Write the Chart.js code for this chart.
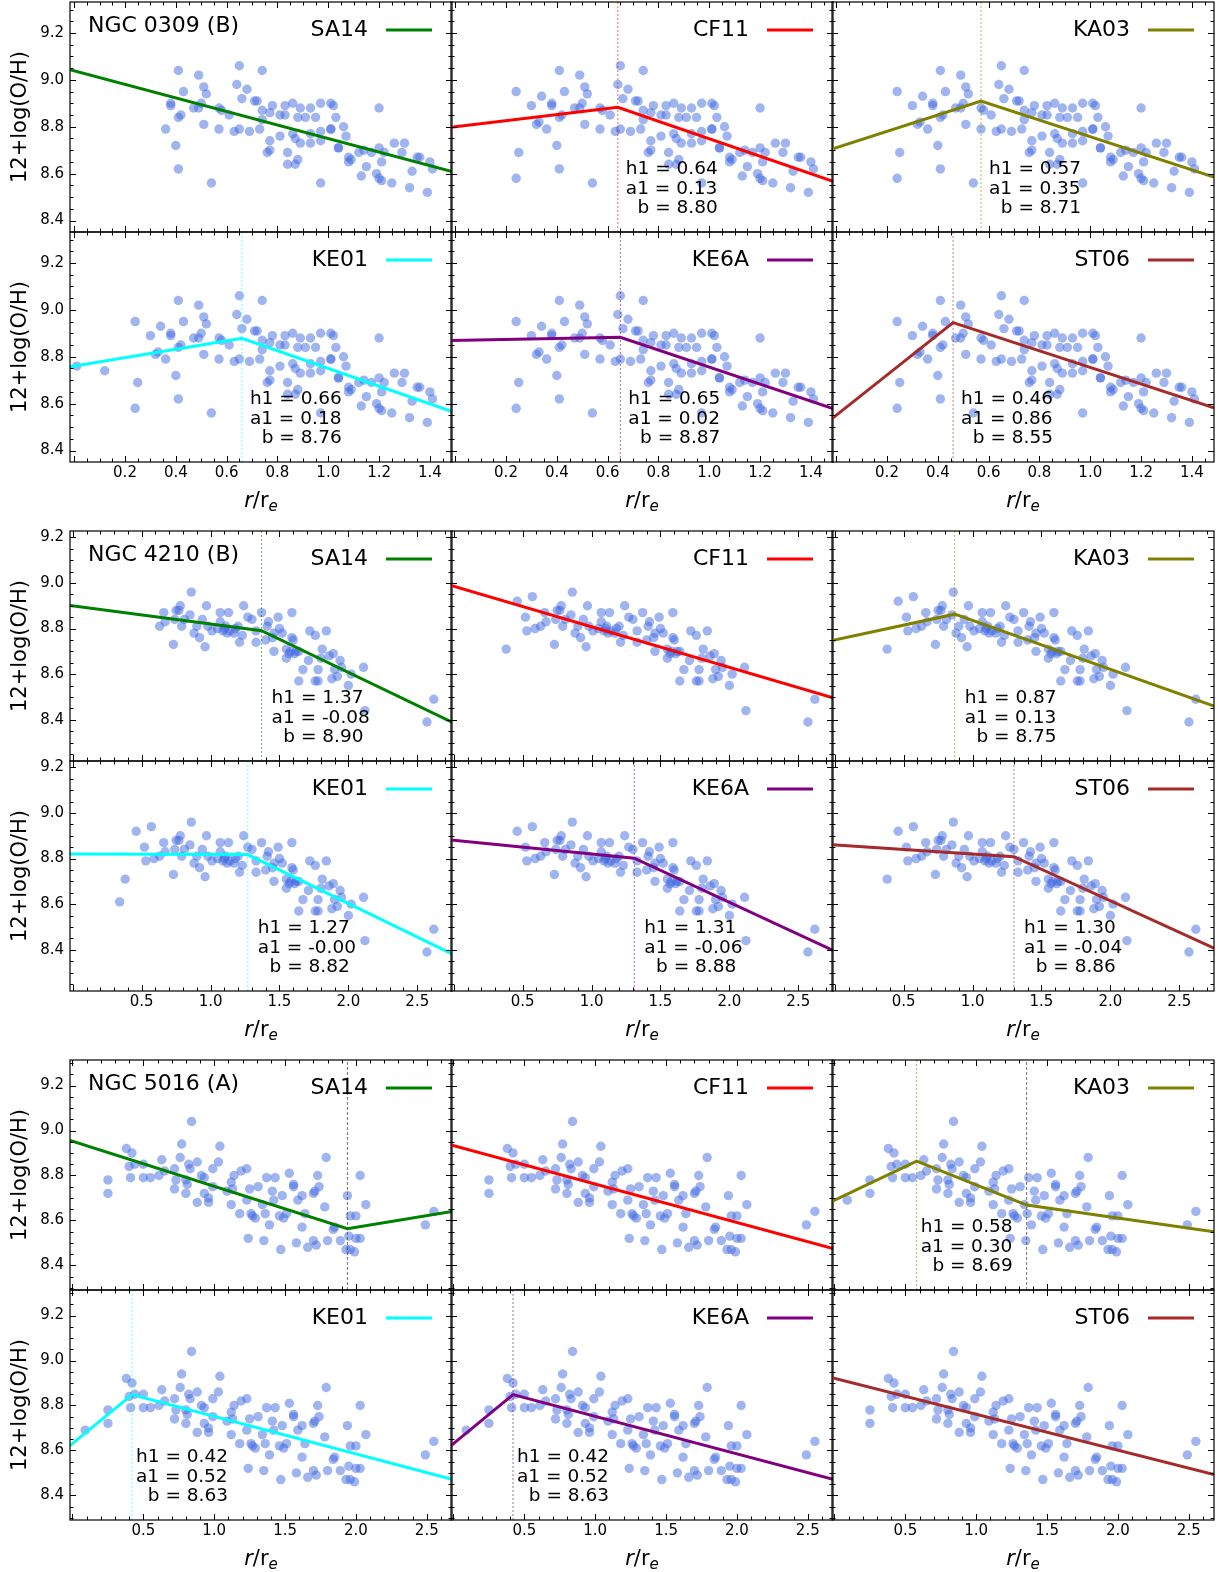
<!DOCTYPE html>
<html>
<head>
<meta charset="utf-8">
<script src="https://cdn.jsdelivr.net/npm/chart.js@4.4.1/dist/chart.umd.min.js"></script>
<style>
  body { margin: 0; background: #fff; width: 1218px; height: 1572px; position: relative; overflow: hidden; }
  canvas { position: absolute; }
</style>
</head>
<body>
<script>
// calibrations, one panel each (2 rows x 3 columns per galaxy)
const calibrations = ['SA14', 'CF11', 'KA03', 'KE01', 'KE6A', 'ST06'];
const lineColors = ['#008000', '#ff0000', '#808000', '#00ffff', '#800080', '#a52a2a'];
const galaxyNames = ['NGC 0309 (B)', 'NGC 4210 (B)', 'NGC 5016 (A)'];

// tick labels
const yTicks = [8.4, 8.6, 8.8, 9.0, 9.2];
const xTicksNarrow = [0, 0.2, 0.4, 0.6, 0.8, 1.0, 1.2, 1.4];
const xTicksWide = [0, 0.5, 1.0, 1.5, 2.0, 2.5];

// ---- NGC 0309 ----
const r0309 = [0.01, 0.12, 0.24, 0.25, 0.24, 0.30, 0.34, 0.32, 0.33, 0.36, 0.38, 0.38, 0.40, 0.41, 0.41, 0.42, 0.43, 0.41,
  0.47, 0.49, 0.49, 0.50, 0.51, 0.52, 0.51, 0.54, 0.57, 0.57, 0.58, 0.61, 0.63, 0.65, 0.64, 0.65, 0.66, 0.68, 0.69,
  0.71, 0.72, 0.74, 0.73, 0.74, 0.74, 0.78, 0.77, 0.77, 0.76, 0.77, 0.81, 0.81, 0.83, 0.83, 0.84, 0.84, 0.86, 0.86,
  0.87, 0.88, 0.88, 0.89, 0.89, 0.87, 0.91, 0.93, 0.93, 0.93, 0.95, 0.97, 0.97, 0.97, 0.97, 1.01, 1.01, 1.01, 1.02,
  1.03, 1.04, 1.04, 1.06, 1.07, 1.08, 1.09, 1.08, 1.12, 1.14, 1.13, 1.15, 1.17, 1.19, 1.20, 1.20, 1.20, 1.21, 1.21,
  1.22, 1.25, 1.26, 1.29, 1.30, 1.33, 1.32, 1.35, 1.36, 1.39, 1.40, 1.41];
const oh0309 = [8.76, 8.74, 8.95, 8.69, 8.58, 8.89, 8.93, 8.81, 8.82, 8.79, 8.89, 8.90, 8.72, 9.04, 8.84, 8.85, 8.95, 8.62,
  8.88, 9.02, 8.88, 8.90, 8.97, 8.94, 8.81, 8.56, 8.79, 8.88, 8.87, 8.85, 8.78, 8.79, 8.98, 9.06, 8.92, 8.96, 8.78,
  8.91, 8.91, 9.04, 8.79, 8.87, 8.83, 8.89, 8.86, 8.74, 8.69, 8.70, 8.76, 8.85, 8.85, 8.89, 8.69, 8.64, 8.90, 8.77,
  8.64, 8.84, 8.66, 8.88, 8.73, 8.75, 8.84, 8.88, 8.73, 8.77, 8.84, 8.90, 8.78, 8.74, 8.56, 8.79, 8.79, 8.90, 8.89,
  8.84, 8.71, 8.71, 8.80, 8.76, 8.67, 8.66, 8.65, 8.69, 8.70, 8.59, 8.63, 8.69, 8.60, 8.71, 8.88, 8.58, 8.57, 8.65,
  8.69, 8.56, 8.73, 8.69, 8.73, 8.61, 8.54, 8.67, 8.67, 8.52, 8.65, 8.62];
const h1_0309 = [null, 0.64, 0.57, 0.66, 0.65, 0.46];
const a1_0309 = [-0.289, 0.13, 0.35, 0.18, 0.02, 0.86];
const b_0309 = [9.039, 8.80, 8.71, 8.76, 8.87, 8.55];
const a2_0309 = [null, -0.373, -0.354, -0.378, -0.363, -0.354];
const h2_0309 = [null, null, null, null, null, null];
const a3_0309 = [null, null, null, null, null, null];
const rMin0309 = [0.36, 0.2, 0.2, 0, 0.2, 0.2];
const noted0309 = [false, true, true, true, true, true];

// ---- NGC 4210 ----
const r4210 = [0.34, 0.38, 0.46, 0.52, 0.53, 0.57, 0.59, 0.63, 0.66, 0.67, 0.73, 0.74, 0.75, 0.77, 0.78, 0.79, 0.81, 0.85,
  0.86, 0.88, 0.90, 0.92, 0.94, 0.96, 0.97, 0.98, 1.01, 1.05, 1.07, 1.07, 1.09, 1.10, 1.13, 1.11, 1.12, 1.14, 1.17,
  1.18, 1.20, 1.21, 1.23, 1.24, 1.27, 1.30, 1.33, 1.33, 1.37, 1.40, 1.41, 1.42, 1.45, 1.46, 1.46, 1.49, 1.50, 1.52,
  1.55, 1.55, 1.57, 1.58, 1.59, 1.59, 1.60, 1.61, 1.62, 1.64, 1.64, 1.67, 1.71, 1.72, 1.76, 1.76, 1.78, 1.78, 1.80,
  1.81, 1.84, 1.86, 1.88, 1.89, 1.90, 1.92, 1.94, 1.95, 2.00, 2.02, 2.11, 2.12, 2.57, 2.62];
const oh4210 = [8.61, 8.71, 8.92, 8.85, 8.79, 8.94, 8.80, 8.81, 8.87, 8.83, 8.73, 8.84, 8.88, 8.88, 8.90, 8.81, 8.84, 8.86,
  8.96, 8.78, 8.81, 8.76, 8.84, 8.72, 8.90, 8.81, 8.79, 8.80, 8.87, 8.83, 8.79, 8.80, 8.87, 8.81, 8.78, 8.79, 8.78,
  8.80, 8.81, 8.74, 8.77, 8.90, 8.85, 8.84, 8.74, 8.79, 8.87, 8.75, 8.81, 8.83, 8.76, 8.70, 8.78, 8.85, 8.80, 8.78,
  8.71, 8.67, 8.69, 8.70, 8.87, 8.76, 8.75, 8.69, 8.70, 8.70, 8.57, 8.62, 8.66, 8.79, 8.77, 8.57, 8.57, 8.62, 8.67,
  8.71, 8.79, 8.68, 8.58, 8.69, 8.62, 8.59, 8.66, 8.63, 8.55, 8.60, 8.63, 8.44, 8.39, 8.49];
const h1_4210 = [1.37, null, 0.87, 1.27, 1.31, 1.30];
const a1_4210 = [-0.08, -0.178, 0.13, -0.002, -0.06, -0.04];
const b_4210 = [8.90, 8.986, 8.75, 8.82, 8.88, 8.86];
const a2_4210 = [-0.29, null, -0.214, -0.294, -0.28, -0.276];
const h2_4210 = [null, null, null, null, null, null];
const a3_4210 = [null, null, null, null, null, null];
const rMin4210 = [0.6, 0.36, 0.36, 0, 0.4, 0.36];
const noted4210 = [true, false, true, true, true, true];

// ---- NGC 5016 ----
const r5016 = [0.09, 0.25, 0.25, 0.38, 0.42, 0.40, 0.41, 0.44, 0.50, 0.50, 0.55, 0.61, 0.63, 0.65, 0.72, 0.73, 0.72, 0.77,
  0.76, 0.80, 0.81, 0.80, 0.82, 0.83, 0.84, 0.88, 0.88, 0.91, 0.93, 0.93, 0.96, 0.96, 0.99, 0.99, 1.03, 1.04, 1.09,
  1.12, 1.12, 1.14, 1.13, 1.18, 1.19, 1.23, 1.23, 1.24, 1.25, 1.26, 1.27, 1.29, 1.31, 1.34, 1.35, 1.37, 1.36, 1.39,
  1.41, 1.43, 1.42, 1.46, 1.48, 1.47, 1.49, 1.51, 1.53, 1.56, 1.56, 1.58, 1.59, 1.62, 1.62, 1.64, 1.66, 1.70, 1.71,
  1.70, 1.72, 1.73, 1.74, 1.78, 1.79, 1.80, 1.84, 1.85, 1.89, 1.94, 1.95, 1.93, 1.96, 1.96, 2.00, 1.99, 2.00, 2.03,
  2.03, 2.07, 2.49, 2.55];
const oh5016 = [8.69, 8.78, 8.72, 8.92, 8.90, 8.84, 8.79, 8.85, 8.85, 8.79, 8.79, 8.80, 8.87, 8.82, 8.83, 8.78, 8.74, 8.94,
  8.88, 8.78, 8.76, 8.72, 8.85, 8.83, 9.04, 8.86, 8.68, 8.80, 8.79, 8.72, 8.70, 8.68, 8.83, 8.75, 8.86, 8.93, 8.73,
  8.67, 8.77, 8.80, 8.74, 8.63, 8.82, 8.83, 8.69, 8.52, 8.74, 8.63, 8.62, 8.61, 8.75, 8.67, 8.51, 8.79, 8.63, 8.58,
  8.73, 8.79, 8.69, 8.62, 8.71, 8.47, 8.61, 8.63, 8.81, 8.76, 8.75, 8.50, 8.69, 8.71, 8.57, 8.63, 8.48, 8.72, 8.73,
  8.51, 8.49, 8.80, 8.75, 8.66, 8.88, 8.51, 8.56, 8.57, 8.51, 8.71, 8.53, 8.47, 8.47, 8.62, 8.62, 8.46, 8.52, 8.52,
  8.80, 8.67, 8.58, 8.64];
const h1_5016 = [1.94, null, 0.58, 0.42, 0.42, null];
const a1_5016 = [-0.2005, -0.171, 0.30, 0.52, 0.52, -0.160];
const b_5016 = [8.952, 8.933, 8.69, 8.63, 8.63, 8.921];
const a2_5016 = [0.104, null, -0.2526, -0.167, -0.167, null];
const h2_5016 = [null, null, 1.356, null, null, null];
const a3_5016 = [null, null, -0.0895, null, null, null];
const rMin5016 = [0.2, 0.2, 0, 0, 0, 0.2];
const noted5016 = [false, false, true, true, true, false];

// axis limits per galaxy
const xMin = [-0.0165, -0.0203, -0.0176];
const xMax = [1.487, 2.752, 2.678];
const yMin = [8.351, 8.219, 8.290];
const yMax = [9.332, 9.228, 9.314];
const xMinorStep = [0.05, 0.1, 0.1];

const galaxies = [
  { r: r0309, oh: oh0309, h1: h1_0309, a1: a1_0309, b: b_0309, a2: a2_0309, h2: h2_0309, a3: a3_0309, rMin: rMin0309, noted: noted0309, xTicks: xTicksNarrow, noteOff: 8 },
  { r: r4210, oh: oh4210, h1: h1_4210, a1: a1_4210, b: b_4210, a2: a2_4210, h2: h2_4210, a3: a3_4210, rMin: rMin4210, noted: noted4210, xTicks: xTicksWide, noteOff: 10 },
  { r: r5016, oh: oh5016, h1: h1_5016, a1: a1_5016, b: b_5016, a2: a2_5016, h2: h2_5016, a3: a3_5016, rMin: rMin5016, noted: noted5016, xTicks: xTicksWide, noteOff: 4 }
];

// page geometry
const colLeft = [70, 451, 832];
const groupTop = [2, 531, 1060];
const boxW = 382, boxH = 230;
const FONT = '"DejaVu Sans", sans-serif';

function fade(hex, alpha) {
  const n = parseInt(hex.slice(1), 16);
  return `rgba(${n >> 16},${(n >> 8) & 255},${n & 255},${alpha})`;
}

function steps(lo, hi, step) {
  const out = [];
  for (let i = Math.ceil(lo / step - 1e-9); i * step <= hi + 1e-9; i++) out.push(+(i * step).toFixed(4));
  return out;
}

// broken-line fit: b + a1*r up to h1, then slope a2 (and a3 after h2)
function fitLine(g, k, lo, hi) {
  const h1 = g.h1[k], a1 = g.a1[k], b = g.b[k];
  const pts = [{ x: lo, y: b + a1 * lo }];
  if (h1 == null) { pts.push({ x: hi, y: b + a1 * hi }); return pts; }
  const y1 = b + a1 * h1;
  pts.push({ x: h1, y: y1 });
  if (g.h2[k] == null) { pts.push({ x: hi, y: y1 + g.a2[k] * (hi - h1) }); return pts; }
  const h2 = g.h2[k], y2 = y1 + g.a2[k] * (h2 - h1);
  pts.push({ x: h2, y: y2 });
  pts.push({ x: hi, y: y2 + g.a3[k] * (hi - h2) });
  return pts;
}

const panelInfo = new Map();

const deco = {
  id: 'deco',
  afterDatasetsDraw(chart) {
    const p = panelInfo.get(chart.canvas);
    const { ctx, chartArea: a } = chart;
    const xs = chart.scales.x, ys = chart.scales.y;
    ctx.save();

    // inward ticks on all four sides
    ctx.strokeStyle = '#000';
    ctx.lineWidth = 1;
    ctx.beginPath();
    const xTick = (v, len) => {
      const px = Math.round(xs.getPixelForValue(v)) + 0.5;
      if (px < a.left + 1 || px > a.right - 1) return;
      ctx.moveTo(px, a.bottom); ctx.lineTo(px, a.bottom - len);
      ctx.moveTo(px, a.top); ctx.lineTo(px, a.top + len);
    };
    const yTick = (v, len) => {
      const py = Math.round(ys.getPixelForValue(v)) + 0.5;
      if (py < a.top + 1 || py > a.bottom - 1) return;
      ctx.moveTo(a.left, py); ctx.lineTo(a.left + len, py);
      ctx.moveTo(a.right, py); ctx.lineTo(a.right - len, py);
    };
    steps(xs.min, xs.max, p.xMinor).forEach(v => xTick(v, 3.5));
    p.xTicks.forEach(v => xTick(v, 6));
    steps(ys.min, ys.max, 0.05).forEach(v => yTick(v, 3.5));
    yTicks.forEach(v => yTick(v, 6));
    ctx.stroke();

    ctx.lineWidth = 1.2;
    ctx.strokeRect(a.left, a.top, a.right - a.left, a.bottom - a.top);

    ctx.fillStyle = '#000';
    // galaxy name
    if (p.name) {
      ctx.font = '22px ' + FONT;
      ctx.textAlign = 'left';
      ctx.textBaseline = 'middle';
      ctx.fillText(p.name, a.left + 18, a.top + 24);
    }
    // legend entry
    ctx.font = '22px ' + FONT;
    ctx.textAlign = 'right';
    ctx.textBaseline = 'middle';
    ctx.fillText(p.label, a.left + 298, a.top + 28);
    ctx.strokeStyle = p.color;
    ctx.lineWidth = 3;
    ctx.beginPath();
    ctx.moveTo(a.left + 316, a.top + 28);
    ctx.lineTo(a.left + 362, a.top + 28);
    ctx.stroke();

    // fit parameters
    if (p.note) {
      ctx.font = '18.5px ' + FONT;
      ctx.textAlign = 'left';
      ctx.textBaseline = 'alphabetic';
      const x0 = xs.getPixelForValue(p.note.h1) + p.noteOff;
      const lines = ['h1 = ' + p.note.h1.toFixed(2), 'a1 = ' + p.note.a1.toFixed(2), '  b = ' + p.note.b.toFixed(2)];
      const base = [172, 191.5, 211];
      lines.forEach((t, i) => {
        const lead = t.startsWith('  ') ? ctx.measureText('  ').width : 0;
        ctx.fillText(t.trim(), x0 + lead, a.top + base[i]);
      });
    }

    // x axis title r/r_e
    if (p.xTitle) {
      const cx = (a.left + a.right) / 2, by = a.bottom + 44.5;
      ctx.textAlign = 'left';
      ctx.textBaseline = 'alphabetic';
      ctx.font = 'italic 21px ' + FONT; const w1 = ctx.measureText('r').width;
      ctx.font = '21px ' + FONT; const w2 = ctx.measureText('/r').width;
      ctx.font = 'italic 15px ' + FONT; const w3 = ctx.measureText('e').width;
      let x = cx - (w1 + w2 + w3) / 2;
      ctx.font = 'italic 21px ' + FONT; ctx.fillText('r', x, by); x += w1;
      ctx.font = '21px ' + FONT; ctx.fillText('/r', x, by); x += w2;
      ctx.font = 'italic 15px ' + FONT; ctx.fillText('e', x, by + 4.5);
    }

    // y axis title
    if (p.yTitle) {
      ctx.translate(21, (a.top + a.bottom) / 2);
      ctx.rotate(-Math.PI / 2);
      ctx.font = '21px ' + FONT;
      ctx.textAlign = 'center';
      ctx.textBaseline = 'middle';
      ctx.fillText('12+log(O/H)', 0, 0);
    }
    ctx.restore();
  }
};

galaxies.forEach((g, gi) => {
  for (let row = 0; row < 2; row++) {
    for (let col = 0; col < 3; col++) {
      const k = row * 3 + col;
      const padL = col === 0 ? colLeft[0] : 2;
      const padB = row === 1 ? 60 : 2;
      const padT = 2, padR = 2;
      const cv = document.createElement('canvas');
      const W = boxW + padL + padR, H = boxH + padT + padB;
      cv.width = W; cv.height = H;
      cv.style.width = W + 'px'; cv.style.height = H + 'px';
      cv.style.left = (colLeft[col] - padL) + 'px';
      cv.style.top = (groupTop[gi] + row * boxH - padT) + 'px';
      document.body.appendChild(cv);

      const lo = xMin[gi], hi = xMax[gi];
      const points = g.r.map((x, i) => ({ x: x, y: g.oh[i] })).filter(pt => pt.x >= g.rMin[k]);
      const datasets = [
        { data: points, backgroundColor: 'rgba(65,105,225,0.5)', borderWidth: 0, pointRadius: 4.7, pointHoverRadius: 4.7, order: 3 },
        { data: fitLine(g, k, lo, hi), showLine: true, borderColor: lineColors[k], borderWidth: 3, pointRadius: 0, fill: false, order: 1 }
      ];
      const vline = (xv, color, dash) => ({
        data: [{ x: xv, y: yMin[gi] }, { x: xv, y: yMax[gi] }], showLine: true, borderColor: color,
        borderWidth: 1, borderDash: dash, pointRadius: 0, fill: false, order: 2
      });
      if (g.h1[k] != null) {
        datasets.push(g.noted[k] ? vline(g.h1[k], fade(lineColors[k], 0.6), [2, 2]) : vline(g.h1[k], 'rgba(80,80,80,0.8)', [3, 2]));
      }
      if (g.h2[k] != null) datasets.push(vline(g.h2[k], 'rgba(80,80,80,0.8)', [3, 2]));

      panelInfo.set(cv, {
        name: (row === 0 && col === 0) ? galaxyNames[gi] : null,
        label: calibrations[k],
        color: lineColors[k],
        note: g.noted[k] ? { h1: g.h1[k], a1: g.a1[k], b: g.b[k] } : null,
        noteOff: g.noteOff,
        xTicks: g.xTicks,
        xMinor: xMinorStep[gi],
        xTitle: row === 1,
        yTitle: col === 0
      });

      new Chart(cv, {
        type: 'scatter',
        data: { datasets: datasets },
        options: {
          responsive: false,
          animation: false,
          devicePixelRatio: 1,
          events: [],
          layout: { autoPadding: false, padding: { top: padT, right: padR, left: 0, bottom: 0 } },
          plugins: { legend: { display: false }, tooltip: { enabled: false } },
          scales: {
            x: {
              type: 'linear', min: lo, max: hi,
              grid: { display: false, drawTicks: false },
              border: { display: false },
              ticks: {
                display: row === 1, color: '#000', padding: 2, maxRotation: 0, minRotation: 0, autoSkip: false,
                font: { family: FONT, size: 15 },
                callback: v => (v === 0 ? '' : v.toFixed(1))
              },
              afterBuildTicks: s => { s.ticks = g.xTicks.map(v => ({ value: v })); },
              afterFit: s => { s.height = padB; s.paddingLeft = 0; s.paddingRight = 0; }
            },
            y: {
              type: 'linear', min: yMin[gi], max: yMax[gi],
              grid: { display: false, drawTicks: false },
              border: { display: false },
              ticks: {
                display: col === 0, color: '#000', padding: 6, autoSkip: false,
                font: { family: FONT, size: 15 },
                callback: v => v.toFixed(1)
              },
              afterBuildTicks: s => { s.ticks = yTicks.map(v => ({ value: v })); },
              afterFit: s => { s.width = padL; s.paddingTop = 0; s.paddingBottom = 0; }
            }
          }
        },
        plugins: [deco]
      });
    }
  }
});
</script>
</body>
</html>
